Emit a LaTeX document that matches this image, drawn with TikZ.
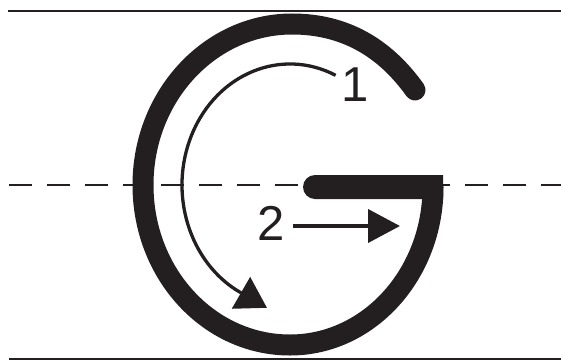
\documentclass[tikz,border=0pt]{standalone}
\usepackage{fontspec}
\setmainfont{Liberation Sans}
\usetikzlibrary{arrows.meta}
\definecolor{ink}{HTML}{231F20}
\tikzset{
  rule/.style={ink,line width=1.7pt},
  midline/.style={ink,line width=1.5pt,dash pattern=on 23pt off 15pt},
  gstroke/.style={ink,line width=21pt,line cap=round,line join=miter},
  trace/.style={ink,line width=3.3pt},
  pointer/.style={ink,line width=4pt,-{Triangle[length=32pt,width=33pt]}},
  digit/.style={ink,inner sep=0pt,font=\fontsize{49}{49}\selectfont},
}

\begin{document}
\begin{tikzpicture}[x=1pt,y=1pt]
\useasboundingbox (0,0) rectangle (561,360);

% ---------------------------------------------------------------- guide lines
\draw[rule] (8,349) -- (561,349);       % top
\draw[midline] (9,175) -- (561,175);    % middle, dashed
\draw[rule] (9,1) -- (561,1);           % base

% ---------------------------------------------------------------- letter G
\draw[gstroke] (415,270) .. controls (385,312) and (345,336) .. (292,336)
  .. controls (210,336) and (143,264) .. (143,175)
  .. controls (143,86) and (209,15) .. (290,15)
  .. controls (369,15) and (433,86) .. (433,173);
% crossbar
\fill[ink] (443,185) -- (315,185) arc[start angle=90,end angle=270,radius=12]
  -- (443,161) -- cycle;

% ---------------------------------------------------------------- stroke order
\coordinate (gc) at (290,175);
\draw[trace] (gc) ++(65:108pt and 121pt)
  arc[start angle=65,end angle=243,x radius=108pt,y radius=121pt] coordinate (bend1);
\draw[trace,-{Triangle[length=30pt,width=36pt]}] (bend1) -- ++(-30:30pt);

\coordinate (tip2) at (400,134);
\node[digit] (one) at (355.5,275.5) {1};
\node[digit] (two) at (271.5,136.5) {2};
\draw[pointer,shorten <=8pt] (two.east |- tip2) -- (tip2);

\end{tikzpicture}
\end{document}
